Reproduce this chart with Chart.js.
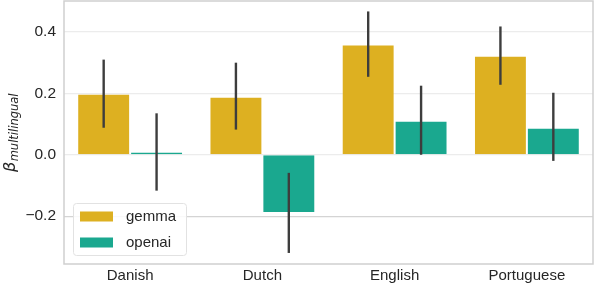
<!DOCTYPE html>
<html lang="en">
<head>
<meta charset="UTF-8">
<title>beta multilingual</title>
<script src="https://cdn.jsdelivr.net/npm/chart.js"></script>
<style>
  html, body { margin: 0; padding: 0; background: #fff; }
  #wrap { width: 596px; height: 288px; }
</style>
</head>
<body>
<div id="wrap"><canvas id="chart" width="596" height="288"></canvas></div>
<script>
const languages = ['Danish', 'Dutch', 'English', 'Portuguese'];
const gemmaVals = [0.199, 0.189, 0.359, 0.323];
const gemmaLow  = [0.088, 0.082, 0.254, 0.228];
const gemmaHigh = [0.310, 0.300, 0.467, 0.418];
const openaiVals = [0.010, -0.190, 0.111, 0.088];
const openaiLow  = [-0.117, -0.320, 0.000, -0.020];
const openaiHigh = [0.135, -0.059, 0.225, 0.202];
const yTicks = [-0.2, 0.0, 0.2, 0.4];

const FONT = '"Liberation Sans", Arial, sans-serif';
const MATH = '"DejaVu Sans", sans-serif';
const colors = { gemma: '#ddb021', openai: '#1aa88f' };

const errorBarPlugin = {
  id: 'errorBars',
  afterDatasetsDraw(chart) {
    const ctx = chart.ctx;
    const y = chart.scales.y;
    const sets = [[gemmaLow, gemmaHigh], [openaiLow, openaiHigh]];
    ctx.save();
    ctx.strokeStyle = '#3d3d3d';
    ctx.lineWidth = 2.4;
    sets.forEach(([lo, hi], d) => {
      chart.getDatasetMeta(d).data.forEach((bar, i) => {
        ctx.beginPath();
        ctx.moveTo(bar.x, y.getPixelForValue(lo[i]));
        ctx.lineTo(bar.x, y.getPixelForValue(hi[i]));
        ctx.stroke();
      });
    });
    ctx.restore();
  }
};

const framePlugin = {
  id: 'frame',
  afterDraw(chart) {
    const { ctx, chartArea: a } = chart;
    ctx.save();
    ctx.strokeStyle = '#cfcfcf';
    ctx.lineWidth = 1.5;
    ctx.strokeRect(a.left, a.top, a.right - a.left, a.bottom - a.top);

    // legend box inside plot, lower left
    const lx = 73.5, ly = 203.5, lw = 113, lh = 52;
    ctx.fillStyle = 'rgba(255,255,255,0.85)';
    ctx.strokeStyle = '#e2e2e2';
    ctx.lineWidth = 1;
    ctx.beginPath();
    ctx.roundRect(lx, ly, lw, lh, 3);
    ctx.fill();
    ctx.stroke();
    chart.data.datasets.forEach((ds, i) => {
      const yy = 216.5 + i * 26;
      ctx.fillStyle = ds.backgroundColor;
      ctx.fillRect(80, yy - 5, 33, 10);
      ctx.fillStyle = '#262626';
      ctx.font = '15px ' + FONT;
      ctx.textBaseline = 'middle';
      ctx.textAlign = 'left';
      ctx.fillText(ds.label, 126, yy);
    });

    // y axis title: beta with italic subscript
    ctx.translate(15, 133);
    ctx.rotate(-Math.PI / 2);
    ctx.fillStyle = '#262626';
    ctx.textBaseline = 'alphabetic';
    ctx.font = 'italic 16px ' + MATH;
    const bw = ctx.measureText('β').width;
    ctx.font = 'italic 11.5px ' + MATH;
    const sw = ctx.measureText('multilingual').width;
    const start = -(bw + sw) / 2;
    ctx.font = 'italic 16px ' + MATH;
    ctx.textAlign = 'left';
    ctx.fillText('β', start, 0);
    ctx.font = 'italic 11.5px ' + MATH;
    ctx.fillText('multilingual', start + bw + 0.5, 3);
    ctx.restore();
  }
};

new Chart(document.getElementById('chart'), {
  type: 'bar',
  data: {
    labels: languages,
    datasets: [
      { label: 'gemma', data: gemmaVals, backgroundColor: colors.gemma,
        borderColor: 'rgba(255,255,255,0.25)', borderWidth: 1,
        categoryPercentage: 0.8, barPercentage: 1.0 },
      { label: 'openai', data: openaiVals, backgroundColor: colors.openai,
        borderColor: 'rgba(255,255,255,0.25)', borderWidth: 1,
        categoryPercentage: 0.8, barPercentage: 1.0 }
    ]
  },
  options: {
    responsive: false,
    animation: false,
    layout: { padding: { left: 0, right: 3, top: 1, bottom: 0 } },
    plugins: { legend: { display: false }, tooltip: { enabled: false } },
    scales: {
      x: {
        grid: { display: false, drawTicks: false, tickLength: 0 },
        border: { display: false },
        ticks: { color: '#262626', font: { family: FONT, size: 15 }, padding: 3 },
        afterFit(scale) {
          scale.height = 24;
          scale.paddingLeft = 0;
          scale.paddingRight = 0;
        }
      },
      y: {
        min: -0.356,
        max: 0.501,
        afterBuildTicks(scale) { scale.ticks = yTicks.map(v => ({ value: v })); },
        grid: {
          color: ctx => (ctx.tick && ctx.tick.value === -0.2 ? '#d4d4d4' : '#ececec'),
          lineWidth: 1.2,
          drawTicks: false
        },
        border: { display: false },
        ticks: {
          color: '#262626',
          font: { family: FONT, size: 15.5 },
          padding: 8,
          callback: v => (v < 0 ? '\u2212' + Math.abs(v).toFixed(1) : v.toFixed(1))
        },
        afterFit(scale) {
          scale.width = 64;
          scale.paddingTop = 0;
          scale.paddingBottom = 0;
        }
      }
    }
  },
  plugins: [errorBarPlugin, framePlugin]
});
</script>
</body>
</html>
